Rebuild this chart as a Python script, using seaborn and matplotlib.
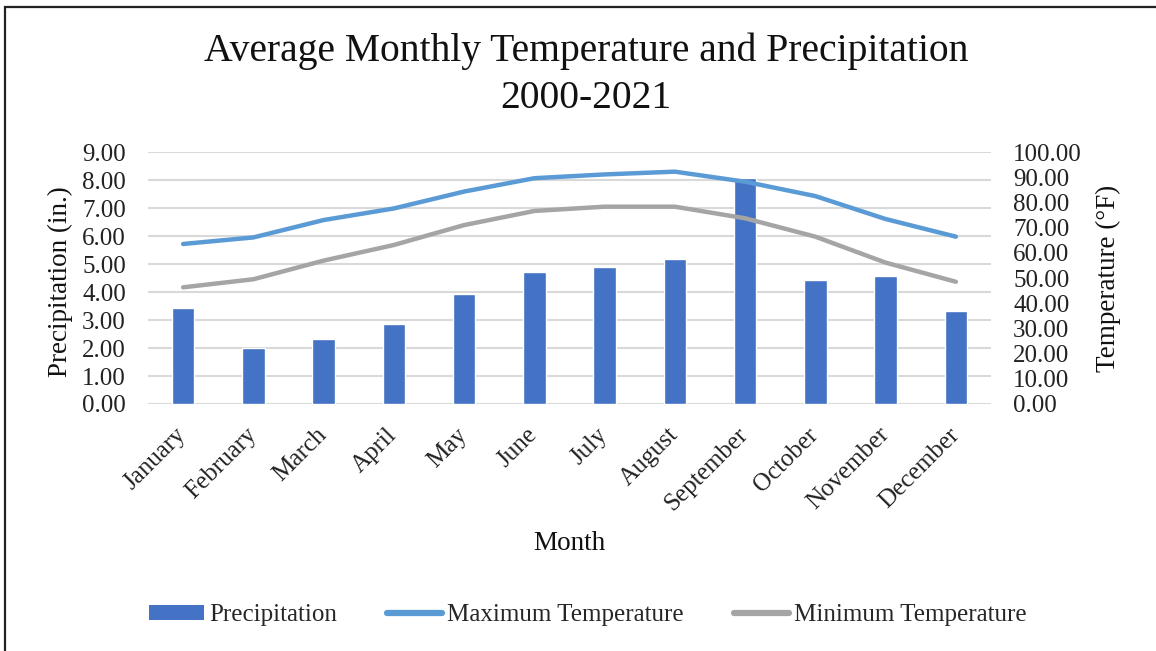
import numpy as np
import pandas as pd
import matplotlib
matplotlib.use("Agg")
import matplotlib.pyplot as plt
import matplotlib.transforms as mtransforms
from matplotlib.patches import Rectangle, Patch
from matplotlib.lines import Line2D
import seaborn as sns

months = ["January", "February", "March", "April", "May", "June", "July",
          "August", "September", "October", "November", "December"]
precip = [3.42, 2.01, 2.31, 2.87, 3.93, 4.73, 4.88, 5.19, 8.06, 4.43, 4.58, 3.31]
max_temp = [63.5, 66.1, 73.0, 77.6, 84.3, 89.6, 91.1, 92.2, 88.2, 82.5, 73.4, 66.4]
min_temp = [46.3, 49.5, 56.9, 63.1, 71.0, 76.6, 78.3, 78.3, 73.7, 66.4, 56.1, 48.5]

bar_color = "#4472C4"
max_color = "#5B9BD5"
min_color = "#A5A5A5"

sns.set_style("white")
plt.rcParams["font.family"] = ["Liberation Serif", "DejaVu Serif"]

df = pd.DataFrame({"month": months, "precip": precip,
                   "max_temp": max_temp, "min_temp": min_temp})
df["pos"] = np.arange(len(months))

fig = plt.figure(figsize=(11.56, 6.51), dpi=100)
ax = fig.add_axes([148 / 1156, 1 - 404 / 651, (991 - 148) / 1156, (404 - 152) / 651])

sns.barplot(data=df, x="month", y="precip", color=bar_color, saturation=1,
            width=0.32, ax=ax, zorder=2)
ax.set_ylim(0, 9)
ax.set_yticks(np.arange(0, 10, 1))
ax.set_yticklabels([f"{v:.2f}" for v in np.arange(0, 10, 1)], fontsize=18)
ax.grid(axis="y", color="#D9D9D9", linewidth=1.5, zorder=0)
ax.set_axisbelow(True)
ax.tick_params(axis="y", length=0, pad=16, colors="#222222")
ax.tick_params(axis="x", length=0, pad=4)
ax.set_xticks(df["pos"])
ax.set_xticklabels(months, rotation=45, ha="right", rotation_mode="anchor",
                   fontsize=18, color="#222222")
# nudge the rotated month labels (left and down) like the original
offset = mtransforms.ScaledTranslation(-8 / 100, -14 / 100, fig.dpi_scale_trans)
for lbl in ax.get_xticklabels():
    lbl.set_transform(lbl.get_transform() + offset)
ax.set_xlabel("")
ax.set_ylabel("")
for s in ax.spines.values():
    s.set_visible(False)
ax.set_xlim(-0.5, 11.5)

ax2 = ax.twinx()
sns.lineplot(data=df, x="pos", y="max_temp", color=max_color, linewidth=3.2,
             ax=ax2, solid_capstyle="round")
sns.lineplot(data=df, x="pos", y="min_temp", color=min_color, linewidth=3.2,
             ax=ax2, solid_capstyle="round")
ax2.set_ylim(0, 100)
ax2.set_yticks(np.arange(0, 101, 10))
ax2.set_yticklabels([f"{v:.2f}" for v in np.arange(0, 101, 10)], fontsize=18)
ax2.tick_params(axis="y", length=0, pad=16, colors="#222222")
ax2.set_xlabel("")
ax2.set_ylabel("")
ax2.grid(False)
for s in ax2.spines.values():
    s.set_visible(False)
ax2.set_xlim(-0.5, 11.5)

# titles and axis labels
fig.text(586 / 1156, 1 - 51 / 651, "Average Monthly Temperature and Precipitation",
         ha="center", va="center", fontsize=28.5, color="#111111")
fig.text(586 / 1156, 1 - 98 / 651, "2000-2021",
         ha="center", va="center", fontsize=28.5, color="#111111")
fig.text(60 / 1156, 1 - 282 / 651, "Precipitation (in.)", rotation=90,
         ha="center", va="center", fontsize=19.5, color="#111111")
fig.text(1108 / 1156, 1 - 278 / 651, "Temperature (°F)", rotation=90,
         ha="center", va="center", fontsize=19.5, color="#111111")
fig.text(569 / 1156, 1 - 544 / 651, "Month",
         ha="center", va="center", fontsize=19.5, color="#111111")

handles = [Patch(facecolor=bar_color, edgecolor="none"),
           Line2D([], [], color=max_color, linewidth=4.5, solid_capstyle="round"),
           Line2D([], [], color=min_color, linewidth=4.5, solid_capstyle="round")]
fig.legend(handles, ["Precipitation", "Maximum Temperature", "Minimum Temperature"],
           loc="center", bbox_to_anchor=(588 / 1156, 1 - 615 / 651), ncol=3,
           frameon=False, fontsize=18, handlelength=2.2, handleheight=0.55,
           handletextpad=0.2, columnspacing=2.0)

# outer frame
fig.patches.append(Rectangle((5 / 1156, -0.1), 1.2, 1 - 7 / 651 + 0.1,
                             transform=fig.transFigure, fill=False,
                             edgecolor="#222222", linewidth=1.6, zorder=10))

fig.savefig("out.png", dpi=100)
